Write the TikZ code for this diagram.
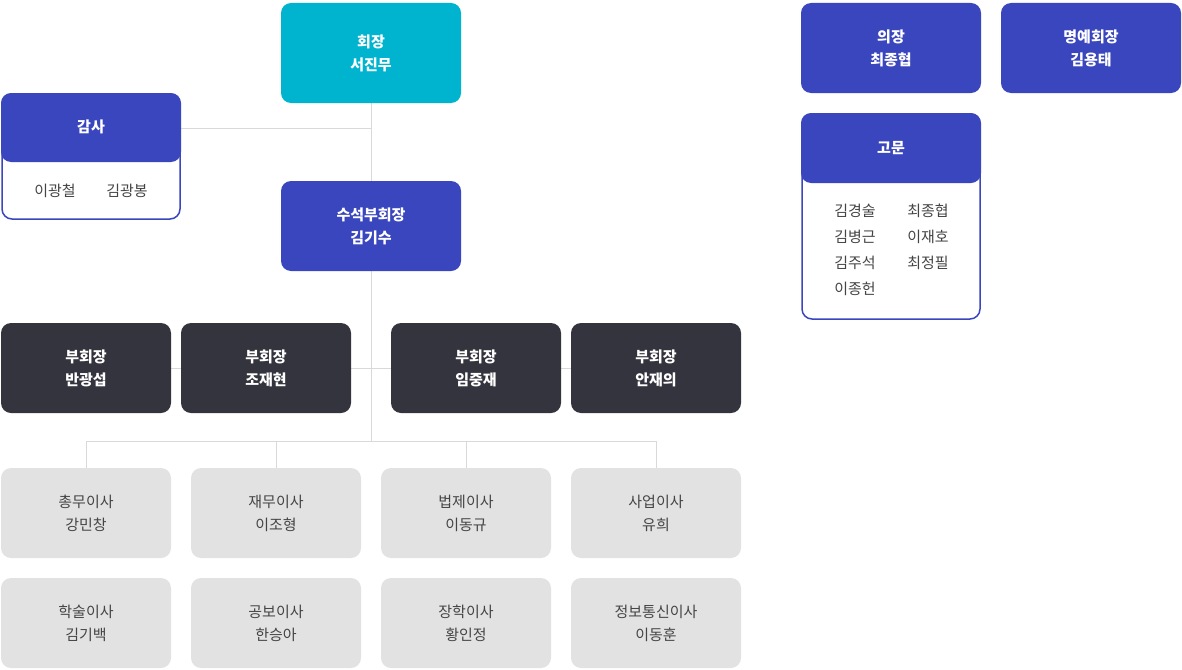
\documentclass[tikz,border=0pt]{standalone}
\usepackage{fontspec}
\setmainfont{Noto Sans CJK KR}
\definecolor{cyanb}{HTML}{00B4CF}
\definecolor{blueb}{HTML}{3A46BE}
\definecolor{darkb}{HTML}{34343E}
\definecolor{greyb}{HTML}{E2E2E2}
\definecolor{linec}{HTML}{D9D9D9}
\definecolor{txtg}{HTML}{444444}
\tikzset{
 box/.style={rounded corners=10pt,inner sep=0pt,align=center,font=\fontsize{15}{23}\selectfont},
 hdr/.style={box,text=white,font=\fontsize{15}{23}\selectfont\bfseries},
 gbox/.style={box,fill=greyb,text=txtg},
 conn/.style={draw=linec,line width=1pt},
 nm/.style={text=txtg,font=\fontsize{15}{23}\selectfont,inner sep=0pt}
}
\begin{document}
\begin{tikzpicture}[x=1pt,y=-1pt]
\useasboundingbox (0,0) rectangle (1182,669);
% lines
\coordinate (ta) at (371,128);
\coordinate (tb) at (371,441);
\coordinate (hl) at (171,368);
\coordinate (hr) at (571,368);
\coordinate (b1) at (86,441);\coordinate (b2) at (276,441);\coordinate (b3) at (466,441);\coordinate (b4) at (656,441);
\draw[conn] (371,103) -- (tb);
\draw[conn] (181,128) -- (ta);
\draw[conn] (hl) -- (hr);
\draw[conn] (b1) -- (b4);
\foreach \x in {86,276,466,656}{\draw[conn] (\x,441) -- (\x,468);}
% top
\node[hdr,fill=cyanb,minimum width=180pt,minimum height=100pt] (pres) at (371,53) {회장\\서진무};
\node[hdr,fill=blueb,minimum width=180pt,minimum height=90pt] (svp) at (371,226) {수석부회장\\김기수};
% audit
\draw[blueb,line width=1.5pt,fill=white,rounded corners=10pt] (2,94) rectangle (180,219);
\fill[blueb,rounded corners=10pt] (1,93) rectangle (181,162);
\node[hdr] (aud) at (91,127) {감사};
\node[nm] (a1) at (55,191) {이광철};
\node[nm] (a2) at (127,191) {김광봉};
% VPs
\foreach \x/\n/\t in {86/v1/반광섭,266/v2/조재현,476/v3/임중재,656/v4/안재의}{
 \node[hdr,fill=darkb,minimum width=170pt,minimum height=90pt] (\n) at (\x,368) {부회장\\\t};}
% directors
\foreach \x/\n/\a/\b in {86/d1/총무이사/강민창,276/d2/재무이사/이조형,466/d3/법제이사/이동규,656/d4/사업이사/유희}{
 \node[gbox,minimum width=170pt,minimum height=90pt] (\n) at (\x,513) {\a\\\b};}
\foreach \x/\n/\a/\b in {86/e1/학술이사/김기백,276/e2/공보이사/한승아,466/e3/장학이사/황인정,656/e4/정보통신이사/이동훈}{
 \node[gbox,minimum width=170pt,minimum height=90pt] (\n) at (\x,623) {\a\\\b};}
% right
\node[hdr,fill=blueb,minimum width=180pt,minimum height=90pt] (chair) at (891,48) {의장\\최종협};
\node[hdr,fill=blueb,minimum width=180pt,minimum height=90pt] (hon) at (1091,48) {명예회장\\김용태};
\draw[blueb,line width=1.5pt,fill=white,rounded corners=10pt] (802,114) rectangle (980,319);
\fill[blueb,rounded corners=10pt] (801,113) rectangle (981,183);
\node[hdr] (adv) at (891,148) {고문};
\node[nm] (g1) at (855,211) {김경술};
\node[nm] (g2) at (855,237) {김병근};
\node[nm] (g3) at (855,263) {김주석};
\node[nm] (g4) at (855,289) {이종헌};
\node[nm] (g5) at (928,211) {최종협};
\node[nm] (g6) at (928,237) {이재호};
\node[nm] (g7) at (928,263) {최정필};
\end{tikzpicture}
\end{document}
